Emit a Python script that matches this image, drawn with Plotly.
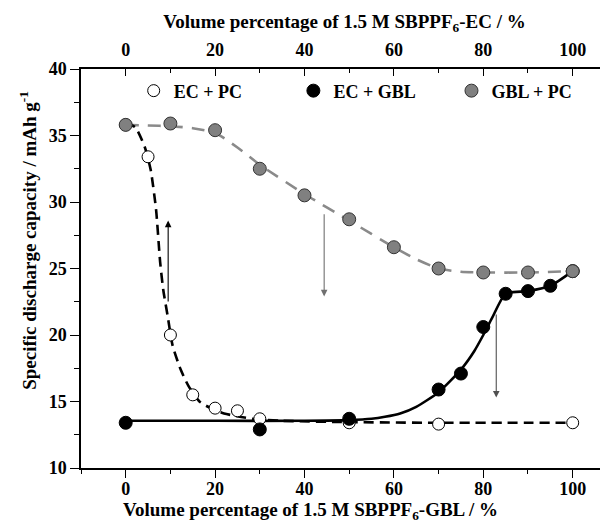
import plotly.graph_objects as go

# --- data ---
x_ecpc = [0, 5, 10, 15, 20, 25, 30, 50, 70, 100]
y_ecpc = [35.8, 33.4, 20.0, 15.5, 14.5, 14.3, 13.7, 13.4, 13.3, 13.4]

x_ecgbl = [0, 30, 50, 70, 75, 80, 85, 90, 95, 100]
y_ecgbl = [13.4, 12.9, 13.7, 15.9, 17.1, 20.6, 23.1, 23.3, 23.7, 24.8]

x_gblpc = [0, 10, 20, 30, 40, 50, 60, 70, 80, 90, 100]
y_gblpc = [35.8, 35.9, 35.4, 32.5, 30.5, 28.7, 26.6, 25.0, 24.7, 24.7, 24.8]

# fitted guide curves
fit_ecpc_x = [0, 2.2, 4.3, 5.6, 6.8, 7.7, 8.4, 9.4, 10.5, 12.3, 14.0, 16.5, 19.0, 22.0, 28.4, 35, 50, 70, 100]
fit_ecpc_y = [36.0, 35.6, 34.1, 32.4, 29.4, 25.5, 23.4, 21.4, 19.2, 17.4, 16.2, 15.0, 14.5, 14.1, 13.7, 13.55, 13.45, 13.4, 13.4]

fit_ecgbl_x = [0, 20, 40, 50, 55, 58, 61.4, 65, 70, 75, 78, 80, 82, 85, 90, 95, 100]
fit_ecgbl_y = [13.55, 13.55, 13.55, 13.6, 13.7, 13.85, 14.1, 14.6, 15.7, 17.4, 18.8, 20.0, 21.3, 23.1, 23.3, 23.7, 24.8]

fit_gblpc_x = [0, 5, 10, 15, 20, 25, 30, 40, 50, 60, 65, 70, 75, 80, 90, 100]
fit_gblpc_y = [35.8, 35.75, 35.7, 35.55, 35.2, 34.1, 32.8, 30.6, 28.6, 26.6, 25.7, 25.0, 24.75, 24.7, 24.7, 24.8]

# arrows: x, y_start, y_end
arrow_x = [9.5, 44.4, 82.9]
arrow_y0 = [22.4, 29.2, 21.65]
arrow_y1 = [28.6, 22.9, 15.3]
arrow_col = ["#000000", "#707070", "#505050"]

x_ticks = [0, 20, 40, 60, 80, 100]
y_ticks = [10, 15, 20, 25, 30, 35, 40]

FONT = "Liberation Serif"
TICKFONT = dict(family=FONT, size=18, color="black", weight="bold")
TITLEFONT = dict(family=FONT, size=19, color="black", weight="bold")

fig = go.Figure()

# fit lines
fig.add_trace(go.Scatter(x=fit_gblpc_x, y=fit_gblpc_y, mode="lines", showlegend=False,
                         line=dict(color="#8a8a8a", width=2.6, dash="13px,9px", shape="spline", smoothing=0.6),
                         hoverinfo="skip"))
fig.add_trace(go.Scatter(x=fit_ecpc_x, y=fit_ecpc_y, mode="lines", showlegend=False,
                         line=dict(color="black", width=2.6, dash="10px,6px", shape="spline", smoothing=0.6),
                         hoverinfo="skip"))
fig.add_trace(go.Scatter(x=fit_ecgbl_x, y=fit_ecgbl_y, mode="lines", showlegend=False,
                         line=dict(color="black", width=2.6, shape="spline", smoothing=0.6),
                         hoverinfo="skip"))

# data markers
fig.add_trace(go.Scatter(x=x_ecpc, y=y_ecpc, mode="markers", name="EC + PC", legend="legend",
                         marker=dict(symbol="circle", size=12, color="white",
                                     line=dict(color="black", width=1))))
fig.add_trace(go.Scatter(x=x_ecgbl, y=y_ecgbl, mode="markers", name="EC + GBL", legend="legend2",
                         marker=dict(symbol="circle", size=13, color="black",
                                     line=dict(color="black", width=1))))
fig.add_trace(go.Scatter(x=x_gblpc, y=y_gblpc, mode="markers", name="GBL + PC", legend="legend3",
                         marker=dict(symbol="circle", size=13, color="#808080",
                                     line=dict(color="#333333", width=1))))

# top axis dummy trace
fig.add_trace(go.Scatter(x=[0, 100], y=[None, None], xaxis="x2", showlegend=False, hoverinfo="skip"))

for xa, ya0, ya1, c in zip(arrow_x, arrow_y0, arrow_y1, arrow_col):
    fig.add_annotation(x=xa, y=ya1, ax=xa, ay=ya0, xref="x", yref="y", axref="x", ayref="y",
                       text="", showarrow=True, arrowhead=2, arrowsize=1.2, arrowwidth=1.1,
                       arrowcolor=c, standoff=0, startstandoff=0)

# axis titles as annotations for exact placement
fig.add_annotation(text="Specific discharge capacity / mAh g<sup>-1</sup>", xref="paper", yref="paper",
                   x=-0.102, y=0.57, xanchor="center", yanchor="middle", textangle=-90,
                   showarrow=False, font=TITLEFONT)
fig.add_annotation(text="Volume percentage of 1.5 M SBPPF<sub>6</sub>-GBL / %", xref="paper", yref="paper",
                   x=(310 - 81) / 527, y=-0.108, xanchor="center", yanchor="middle",
                   showarrow=False, font=TITLEFONT)

axis_common = dict(showline=True, linecolor="black", linewidth=1.5, showgrid=False, zeroline=False,
                   tickfont=TICKFONT, tickwidth=1.3, tickcolor="black", automargin=False)

def leg(xpos):
    return dict(orientation="h", x=xpos, y=0.945, xanchor="left", yanchor="middle",
                bgcolor="rgba(0,0,0,0)", font=dict(family=FONT, size=18, color="black", weight="bold"),
                itemclick=False)

fig.update_layout(
    width=600, height=519,
    margin=dict(l=73, r=0, t=61, b=59, autoexpand=False),
    paper_bgcolor="white", plot_bgcolor="white",
    font=dict(family=FONT, color="black"),
    showlegend=True,
    legend=leg(0.100), legend2=leg(0.403), legend3=leg(0.703),
    xaxis=dict(range=[-10, 107.9], tickvals=x_ticks, ticks="outside", ticklen=8, ticklabelstandoff=-4,
               minor=dict(dtick=10, ticklen=4, tickcolor="black", ticks="outside"),
               **axis_common),
    xaxis2=dict(range=[-10, 107.9], overlaying="x", side="top", anchor="y", tickvals=x_ticks,
                ticks="inside", ticklen=7, ticklabelstandoff=4,
                minor=dict(dtick=10, ticklen=4, tickcolor="black", ticks="inside"),
                title=dict(text="Volume percentage of 1.5 M SBPPF<sub>6</sub>-EC / %",
                           font=TITLEFONT, standoff=6),
                **axis_common),
    yaxis=dict(range=[10, 40], tickvals=y_ticks, ticks="outside", ticklen=9,
               minor=dict(dtick=2.5, ticklen=5, tickcolor="black", ticks="outside"),
               **axis_common),
)

fig.write_html("out.html")
